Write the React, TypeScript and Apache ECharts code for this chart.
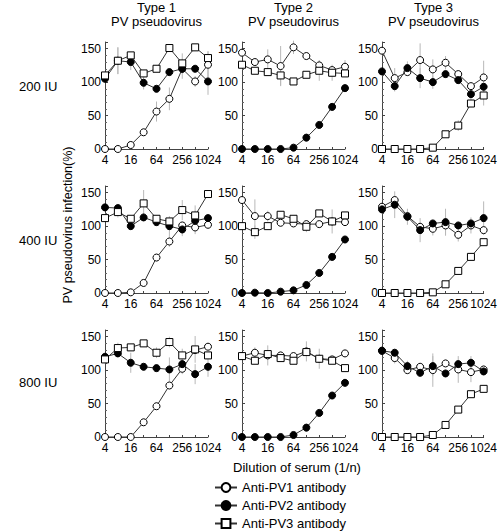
import React, { useEffect, useRef } from "react";
import * as echarts from "echarts";

const dilutions = ["4", "8", "16", "32", "64", "128", "256", "512", "1024"];
const columnTitles = ["Type 1", "Type 2", "Type 3"];
const rowLabels = ["200 IU", "400 IU", "800 IU"];
const seriesNames = ["Anti-PV1 antibody", "Anti-PV2 antibody", "Anti-PV3 antibody"];

// 200 IU
const t1_200_pv1 = [0, 0, 6, 25, 56, 75, 120, 101, 126];
const t1_200_pv1_err = [0, 0, 0, 0, 15, 17, 0, 8, 20];
const t1_200_pv2 = [105, 132, 130, 99, 90, 115, 120, 120, 101];
const t1_200_pv2_err = [0, 20, 12, 10, 0, 0, 15, 0, 20];
const t1_200_pv3 = [110, 132, 140, 113, 120, 151, 128, 152, 136];
const t1_200_pv3_err = [0, 20, 0, 0, 0, 0, 15, 0, 10];

const t2_200_pv1 = [144, 130, 134, 124, 152, 139, 125, 118, 123];
const t2_200_pv1_err = [0, 0, 15, 30, 10, 0, 8, 0, 10];
const t2_200_pv2 = [0, 0, 0, 0, 2, 17, 36, 63, 91];
const t2_200_pv2_err = [0, 0, 0, 0, 0, 4, 0, 4, 0];
const t2_200_pv3 = [126, 117, 115, 110, 101, 111, 117, 114, 113];
const t2_200_pv3_err = [0, 0, 0, 15, 0, 0, 15, 12, 0];

const t3_200_pv1 = [147, 106, 115, 133, 119, 129, 112, 94, 107];
const t3_200_pv1_err = [0, 15, 0, 25, 15, 10, 0, 0, 25];
const t3_200_pv2 = [116, 94, 121, 106, 100, 112, 103, 82, 93];
const t3_200_pv2_err = [0, 8, 10, 15, 10, 0, 0, 15, 0];
const t3_200_pv3 = [0, 0, 0, 0, 2, 22, 35, 68, 80];
const t3_200_pv3_err = [0, 0, 0, 0, 0, 0, 8, 0, 15];

// 400 IU
const t1_400_pv1 = [0, 0, 1, 15, 53, 77, 101, 98, 102];
const t1_400_pv1_err = [0, 0, 0, 0, 0, 8, 0, 10, 5];
const t1_400_pv2 = [128, 127, 100, 113, 106, 100, 95, 108, 112];
const t1_400_pv2_err = [0, 0, 0, 0, 0, 15, 10, 15, 0];
const t1_400_pv3 = [112, 121, 111, 134, 111, 107, 124, 116, 148];
const t1_400_pv3_err = [0, 8, 0, 20, 0, 0, 15, 15, 0];

const t2_400_pv1 = [139, 115, 115, 105, 104, 103, 103, 107, 106];
const t2_400_pv1_err = [0, 25, 8, 0, 0, 0, 0, 18, 0];
const t2_400_pv2 = [0, 0.5, 0, 2, 4, 12, 30, 54, 80];
const t2_400_pv2_err = [0, 0, 0, 0, 0, 0, 4, 0, 0];
const t2_400_pv3 = [100, 91, 100, 117, 111, 99, 119, 107, 116];
const t2_400_pv3_err = [0, 10, 0, 0, 0, 8, 0, 0, 0];

const t3_400_pv1 = [129, 139, 115, 99, 96, 101, 87, 101, 94];
const t3_400_pv1_err = [0, 0, 0, 0, 10, 15, 10, 12, 0];
const t3_400_pv2 = [125, 132, 114, 94, 104, 106, 101, 104, 112];
const t3_400_pv2_err = [0, 20, 12, 18, 0, 20, 0, 0, 25];
const t3_400_pv3 = [0, 0, 0, 0, 1, 13, 33, 54, 76];
const t3_400_pv3_err = [0, 0, 0, 0, 0, 0, 0, 0, 0];

// 800 IU
const t1_800_pv1 = [0, 0, 0, 22, 46, 77, 102, 130, 135];
const t1_800_pv1_err = [0, 0, 0, 0, 0, 0, 0, 0, 0];
const t1_800_pv2 = [120, 125, 111, 105, 103, 101, 109, 94, 105];
const t1_800_pv2_err = [0, 0, 15, 0, 0, 18, 15, 15, 15];
const t1_800_pv3 = [116, 133, 134, 140, 126, 142, 122, 131, 122];
const t1_800_pv3_err = [0, 8, 0, 0, 8, 8, 10, 20, 0];

const t2_800_pv1 = [121, 126, 122, 122, 121, 128, 117, 116, 125];
const t2_800_pv1_err = [0, 8, 15, 0, 0, 15, 15, 0, 0];
const t2_800_pv2 = [0, 0, 0, 0, 3, 14, 36, 62, 81];
const t2_800_pv2_err = [0, 0, 0, 0, 0, 0, 0, 0, 0];
const t2_800_pv3 = [121, 114, 124, 118, 114, 127, 117, 114, 103];
const t2_800_pv3_err = [0, 0, 0, 0, 0, 0, 0, 0, 0];

const t3_800_pv1 = [129, 118, 100, 105, 100, 110, 101, 97, 101];
const t3_800_pv1_err = [0, 8, 0, 0, 25, 0, 20, 15, 5];
const t3_800_pv2 = [129, 126, 106, 96, 106, 95, 109, 111, 98];
const t3_800_pv2_err = [0, 5, 8, 5, 15, 0, 0, 10, 5];
const t3_800_pv3 = [0, 0, 0, 0, 3, 18, 41, 64, 72];
const t3_800_pv3_err = [0, 0, 0, 0, 0, 0, 0, 5, 0];

// panels, row-major (row = dose, column = virus type)
const panels = [
  [[t1_200_pv1, t1_200_pv1_err], [t1_200_pv2, t1_200_pv2_err], [t1_200_pv3, t1_200_pv3_err]],
  [[t2_200_pv1, t2_200_pv1_err], [t2_200_pv2, t2_200_pv2_err], [t2_200_pv3, t2_200_pv3_err]],
  [[t3_200_pv1, t3_200_pv1_err], [t3_200_pv2, t3_200_pv2_err], [t3_200_pv3, t3_200_pv3_err]],
  [[t1_400_pv1, t1_400_pv1_err], [t1_400_pv2, t1_400_pv2_err], [t1_400_pv3, t1_400_pv3_err]],
  [[t2_400_pv1, t2_400_pv1_err], [t2_400_pv2, t2_400_pv2_err], [t2_400_pv3, t2_400_pv3_err]],
  [[t3_400_pv1, t3_400_pv1_err], [t3_400_pv2, t3_400_pv2_err], [t3_400_pv3, t3_400_pv3_err]],
  [[t1_800_pv1, t1_800_pv1_err], [t1_800_pv2, t1_800_pv2_err], [t1_800_pv3, t1_800_pv3_err]],
  [[t2_800_pv1, t2_800_pv1_err], [t2_800_pv2, t2_800_pv2_err], [t2_800_pv3, t2_800_pv3_err]],
  [[t3_800_pv1, t3_800_pv1_err], [t3_800_pv2, t3_800_pv2_err], [t3_800_pv3, t3_800_pv3_err]],
];

const FONT = "'Liberation Sans', Arial, Helvetica, sans-serif";
const colLefts = [105, 242, 382];
const rowTops = [42, 186, 330];
const PW = 103;
const PH = 107;

const markerStyles = [
  { symbol: "circle", color: "#ffffff" },
  { symbol: "circle", color: "#000000" },
  { symbol: "rect", color: "#ffffff" },
];

export default function App() {
  const ref = useRef<HTMLDivElement>(null);
  useEffect(() => {
    document.body.style.margin = "0";
    const chart = echarts.init(ref.current!, null, { renderer: "svg" });
    const grids: any[] = [];
    const xAxes: any[] = [];
    const yAxes: any[] = [];
    const series: any[] = [];
    panels.forEach((panel, g) => {
      const row = Math.floor(g / 3);
      const col = g % 3;
      grids.push({ left: colLefts[col], top: rowTops[row], width: PW, height: PH });
      xAxes.push({
        type: "category",
        gridIndex: g,
        data: dilutions,
        boundaryGap: false,
        axisLine: { lineStyle: { color: "#444", width: 1 } },
        axisTick: { show: true, inside: true, length: 2, interval: 0, lineStyle: { color: "#444" } },
        axisLabel: { interval: 1, color: "#000", fontSize: 12, fontFamily: FONT, margin: 5 },
        splitLine: { show: false },
      });
      yAxes.push({
        type: "value",
        gridIndex: g,
        min: 0,
        max: 160,
        interval: 50,
        axisLine: { show: true, lineStyle: { color: "#444", width: 1 } },
        axisTick: { show: true, inside: true, length: 3, lineStyle: { color: "#444" } },
        minorTick: { show: true, splitNumber: 5, length: 2, lineStyle: { color: "#666" } },
        axisLabel: {
          color: "#000",
          fontSize: 12,
          fontFamily: FONT,
          margin: 4,
          formatter: (v: number) => (v % 50 === 0 ? String(v) : ""),
        },
        splitLine: { show: false },
      });
      panel.forEach(([vals, errs]) => {
        const errData = vals
          .map((v, i) => [i, v - errs[i], v + errs[i], errs[i]])
          .filter((d) => d[3] > 0);
        series.push({
          type: "custom",
          xAxisIndex: g,
          yAxisIndex: g,
          silent: true,
          z: 1,
          encode: { x: 0, y: [1, 2] },
          data: errData,
          renderItem: (params: any, api: any) => {
            const i = api.value(0);
            const p1 = api.coord([i, api.value(1)]);
            const p2 = api.coord([i, api.value(2)]);
            return {
              type: "line",
              shape: { x1: p1[0], y1: p1[1], x2: p2[0], y2: p2[1] },
              style: { stroke: "#b8b8b8", lineWidth: 1 },
            };
          },
        });
      });
      panel.forEach(([vals], s) => {
        series.push({
          type: "line",
          name: seriesNames[s],
          xAxisIndex: g,
          yAxisIndex: g,
          data: vals,
          symbol: markerStyles[s].symbol,
          symbolSize: 7,
          showAllSymbol: true,
          clip: false,
          z: 3 + s,
          itemStyle: { color: markerStyles[s].color, borderColor: "#000", borderWidth: 1 },
          lineStyle: { color: "#333", width: 1 },
          emphasis: { disabled: true },
        });
      });
    });

    const graphics: any[] = [];
    columnTitles.forEach((t, c) => {
      const cx = colLefts[c] + PW / 2;
      graphics.push({
        type: "text",
        x: cx,
        y: 7,
        style: { text: t, fontSize: 13, fontFamily: FONT, fill: "#000", align: "center", verticalAlign: "middle" },
      });
      graphics.push({
        type: "text",
        x: cx,
        y: 21,
        style: { text: "PV pseudovirus", fontSize: 13, fontFamily: FONT, fill: "#000", align: "center", verticalAlign: "middle" },
      });
    });
    rowLabels.forEach((t, r) => {
      graphics.push({
        type: "text",
        x: 19,
        y: [86, 240, 382][r],
        style: { text: t, fontSize: 13, fontFamily: FONT, fill: "#000", align: "left", verticalAlign: "middle" },
      });
    });
    graphics.push({
      type: "text",
      x: 68,
      y: 225,
      rotation: Math.PI / 2,
      style: { text: "PV pseudovirus infection(%)", fontSize: 12.5, fontFamily: FONT, fill: "#000", align: "center", verticalAlign: "middle" },
    });
    graphics.push({
      type: "text",
      x: 297,
      y: 467,
      style: { text: "Dilution of serum (1/n)", fontSize: 13, fontFamily: FONT, fill: "#000", align: "center", verticalAlign: "middle" },
    });

    chart.setOption({
      animation: false,
      backgroundColor: "#ffffff",
      grid: grids,
      xAxis: xAxes,
      yAxis: yAxes,
      series,
      graphic: graphics,
      legend: {
        data: seriesNames,
        orient: "vertical",
        left: 214,
        top: 481,
        height: 50,
        padding: 0,
        itemWidth: 22,
        itemHeight: 11,
        itemGap: 5,
        selectedMode: false,
        textStyle: { fontSize: 13, fontFamily: FONT, color: "#000" },
      },
    });
    return () => chart.dispose();
  }, []);
  return <div ref={ref} style={{ width: 500, height: 532 }} />;
}
